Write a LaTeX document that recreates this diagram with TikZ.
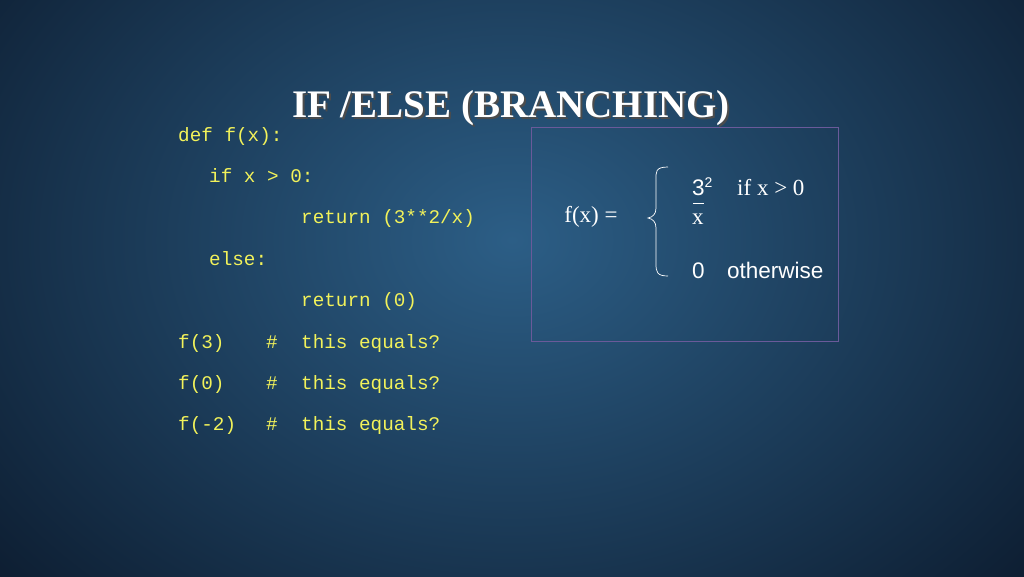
\documentclass[tikz,border=0pt]{standalone}
\usepackage{fontspec}
\setmainfont{Liberation Serif}
\newfontfamily\codefont{Liberation Mono}
\newfontfamily\sansf{Liberation Sans}
\definecolor{bgin}{HTML}{2C5E86}
\definecolor{bgout}{HTML}{0C1B2E}
\definecolor{codey}{HTML}{F2F25A}
\definecolor{boxc}{HTML}{6A5A9A}
\begin{document}
\begin{tikzpicture}[x=1pt,y=-1pt,
  code/.style={anchor=base west,inner sep=0pt,text=codey,font=\codefont\fontsize{19.3}{20}\selectfont},
  mathtxt/.style={inner sep=0pt,text=white,font=\fontsize{23}{26}\selectfont},
  sanstxt/.style={inner sep=0pt,text=white,font=\sansf\fontsize{22.5}{26}\selectfont}]
\useasboundingbox (0,0) rectangle (1024,576);
\shade[inner color=bgin,outer color=bgout] (-200,-300) rectangle (1224,780);
% title
\node[text=black!70,font=\bfseries\fontsize{39}{42}\selectfont] at (513,110) {IF /ELSE (BRANCHING)};
\node (title)[text=white,font=\bfseries\fontsize{39}{42}\selectfont] at (511,108) {IF /ELSE (BRANCHING)};
% code
\node (c1)[code] at (178,141) {def f(x):};
\node (c2)[code] at (209,182) {if x > 0:};
\node (c3)[code] at (301,223) {return (3**2/x)};
\node (c4)[code] at (209,265) {else:};
\node (c5)[code] at (301,306) {return (0)};
\foreach \y/\a [count=\i] in {348/3,389/0,430/-2}{
  \node (f\i)[code] at (178,\y) {f(\a)};
  \node (h\i)[code] at (266,\y) {\#};
  \node (t\i)[code] at (301,\y) {this equals?};
}
% formula box
\draw[boxc,line width=0.8pt] (531,127) rectangle (838,341);
\node (fx)[mathtxt] at (591,217) {f(x) =};
\draw[white,line width=0.7pt] (668,167) .. controls (655,167) and (656,172) .. (656,180)
  -- (656,208) .. controls (656,214) and (653,217) .. (648,218)
  .. controls (653,219) and (656,222) .. (656,228) -- (656,264)
  .. controls (656,272) and (657,276) .. (668,276);
\node (num)[sanstxt,anchor=base west] at (692,195) {3\raisebox{0.6ex}{\fontsize{14}{14}\selectfont 2}};
\draw[white,line width=0.7pt] (693,203) -- (704,203);
\node (den)[mathtxt,anchor=base west] at (692,224) {x};
\node (cond1)[mathtxt,anchor=base west] at (737,195) {if x > 0};
\node (zero)[sanstxt,anchor=base west] at (692,278) {0};
\node (cond2)[sanstxt,anchor=base west] at (727,278) {otherwise};
\end{tikzpicture}
\end{document}
